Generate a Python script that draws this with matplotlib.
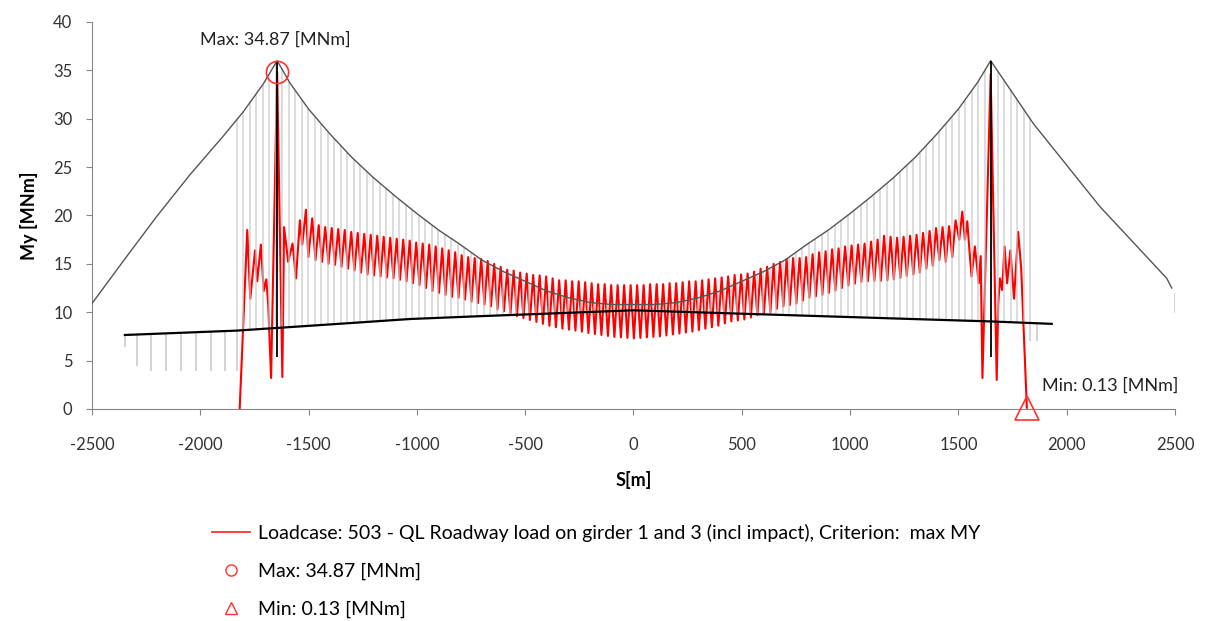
import numpy as np
import matplotlib.pyplot as plt
from matplotlib.lines import Line2D

plt.rcParams['font.family'] = ['Lato', 'DejaVu Sans']
plt.rcParams['axes.unicode_minus'] = False

# --- bridge geometry drawn as background ---
cable_s = [-2500, -2355, -2201, -2048, -1894, -1802, -1709, -1645,
           -1586, -1500, -1400, -1300, -1200, -1100, -1000, -900, -800, -700,
           -600, -500, -400, -300, -200, -100, 0,
           100, 200, 300, 400, 500, 600, 700, 800, 900, 1000, 1100, 1200,
           1300, 1400, 1500, 1590, 1649,
           1846, 2000, 2154, 2354, 2462, 2485]
cable_my = [10.9, 15.3, 19.9, 24.2, 28.2, 30.7, 33.6, 36.0,
            33.7, 31.0, 28.4, 26.0, 23.9, 22.0, 20.2, 18.5, 17.0, 15.4,
            14.2, 13.2, 12.2, 11.5, 11.0, 10.8, 10.8,
            10.8, 11.0, 11.5, 12.2, 13.2, 14.2, 15.4, 17.0, 18.5, 20.2, 22.0, 23.9,
            26.0, 28.4, 31.0, 33.8, 36.0,
            29.5, 25.2, 20.9, 16.1, 13.5, 12.5]

deck_s = [-2348, -1832, -1394, -1032, -700, 0, 715, 1430, 1650, 1931]
deck_my = [7.65, 8.1, 8.75, 9.3, 9.6, 10.2, 9.7, 9.2, 9.05, 8.8]

tower_s = [-1645, 1649]
tower_top = [36.0, 36.0]
tower_bottom = [5.4, 5.4]

# hangers between deck and cable
hanger_first = -1832
hanger_last = 1831
hanger_count = 123

# short verticals hanging under the deck
approach_s = [-2348, -2293, -2228, -2159, -2091, -2020, -1952, -1884, -1832, 1831, 1864]
approach_bottom = [6.4, 4.4, 3.9, 3.9, 3.9, 3.9, 3.9, 3.9, 3.9, 7.0, 7.0]

abutment_s = [2500]
abutment_top = [12.0]
abutment_bottom = [9.9]

# --- My result line (loadcase 503) ---
left_end_s = [-1818, -1783, -1769, -1747, -1737, -1720, -1707, -1695, -1686, -1673,
              -1645, -1621, -1613, -1594, -1574, -1558, -1540, -1529, -1512, -1501]
left_end_my = [0.0, 18.5, 11.4, 16.4, 13.2, 17.0, 12.2, 13.4, 10.7, 3.2,
               34.87, 3.3, 18.8, 15.2, 17.1, 13.5, 19.5, 17.0, 20.6, 15.7]

main_first_peak = -1483
main_pitch = 30
main_peaks = [19.7, 19.0, 18.8, 18.7, 18.6, 18.5, 18.3, 18.2, 18.1, 18.0,
              17.9, 17.8, 17.7, 17.6, 17.5, 17.4, 17.2, 17.1, 17.0, 16.8,
              16.6, 16.4, 16.2, 15.9, 15.7, 15.6, 15.5, 15.3, 15.0, 14.7,
              14.4, 14.3, 14.1, 14.0, 13.85, 13.8, 13.7, 13.5, 13.3, 13.3,
              13.2, 13.2, 13.1, 13.0, 12.9, 12.9, 12.8, 12.8, 12.8, 12.8,
              12.8, 12.8, 12.9, 12.9, 12.9, 13.0, 13.0, 13.1, 13.2, 13.2,
              13.3, 13.4, 13.5, 13.6, 13.7, 13.85, 13.9, 14.0, 14.2, 14.5,
              14.7, 15.0, 15.2, 15.5, 15.6, 15.6, 15.7, 16.0, 16.2, 16.3,
              16.5, 16.6, 16.8, 16.9, 17.0, 17.1, 17.3, 17.5, 17.9, 17.8,
              17.7, 17.8, 17.9, 18.0, 18.2, 18.4, 18.7, 18.8, 18.9, 19.5]
main_troughs = [15.4, 15.2, 15.0, 14.9, 14.7, 14.5, 14.3, 14.1, 13.9, 13.8,
                13.7, 13.6, 13.5, 13.35, 13.2, 13.0, 12.8, 12.5, 12.2, 12.0,
                11.8, 11.6, 11.5, 11.3, 11.1, 10.95, 10.8, 10.6, 10.3, 10.1,
                9.8, 9.6, 9.4, 9.2, 9.0, 8.8, 8.6, 8.45, 8.3, 8.2,
                8.1, 8.0, 7.85, 7.75, 7.65, 7.55, 7.45, 7.4, 7.35, 7.3,
                7.35, 7.4, 7.45, 7.5, 7.6, 7.7, 7.8, 7.9, 8.0, 8.15,
                8.3, 8.45, 8.6, 8.85, 9.05, 9.15, 9.25, 9.45, 9.7, 9.8,
                10.0, 10.35, 10.6, 10.75, 10.9, 11.2, 11.5, 11.65, 11.8, 12.0,
                12.25, 12.5, 12.75, 12.95, 13.15, 13.2, 13.25, 13.25, 13.3, 13.4,
                13.55, 13.75, 13.9, 14.1, 14.5, 14.8, 15.4, 15.2, 15.7]

right_end_s = [1504, 1518, 1530, 1541, 1552, 1561, 1576, 1594, 1603, 1611,
               1649, 1677, 1684, 1692, 1702, 1713, 1725, 1740, 1757, 1776, 1790, 1816]
right_end_my = [17.5, 20.4, 17.5, 19.4, 16.1, 13.7, 16.8, 13.0, 15.8, 3.2,
                34.6, 3.0, 10.9, 13.5, 12.3, 16.8, 13.0, 16.4, 11.4, 18.3, 14.5, 0.13]

max_s, max_val = -1645, 34.87
min_s, min_val = 1816, 0.13

legend_labels = ['Loadcase: 503 - QL Roadway load on girder 1 and 3 (incl impact), Criterion:  max MY',
                 'Max: 34.87 [MNm]',
                 'Min: 0.13 [MNm]']

# assemble red series: peaks at hanger pitch, troughs halfway between
n = len(main_peaks)
peak_s = main_first_peak + main_pitch * np.arange(n)
main_s = np.empty(2 * n - 1)
main_my = np.empty(2 * n - 1)
main_s[0::2] = peak_s
main_s[1::2] = peak_s[:-1] + main_pitch / 2
main_my[0::2] = main_peaks
main_my[1::2] = main_troughs
red_s = np.concatenate([left_end_s, main_s, right_end_s])
red_my = np.concatenate([left_end_my, main_my, right_end_my])

fig = plt.figure(figsize=(12.05, 6.21), dpi=100)
ax = fig.add_axes([0.0763, 0.3414, 0.8988, 0.6232])

grey = '#868686'

# red moment line first, structure drawn over it
ax.plot(red_s, red_my, color='#ff0000', lw=1.5, zorder=2)

hs = np.linspace(hanger_first, hanger_last, hanger_count)
ax.vlines(hs, np.interp(hs, deck_s, deck_my), np.interp(hs, cable_s, cable_my),
          color='#c8c8c8', lw=1.1, alpha=0.8, zorder=3)
ax.vlines(approach_s, approach_bottom, np.interp(approach_s, deck_s, deck_my),
          color='#c8c8c8', lw=1.1, zorder=3)
ax.vlines(abutment_s, abutment_bottom, abutment_top, color='#c8c8c8', lw=1.1, zorder=3)

ax.plot(cable_s, cable_my, color='#555555', lw=1.0, zorder=4)
ax.plot(deck_s, deck_my, color='black', lw=1.6, zorder=4)
ax.vlines(tower_s, tower_bottom, tower_top, color='black', lw=1.3, zorder=4)

# max / min markers
ax.plot([max_s], [max_val], ls='none', marker='o', ms=16, mfc='none', mec='#ff3030',
        mew=1.2, zorder=5, clip_on=False)
ax.plot([min_s], [min_val], ls='none', marker='^', ms=17, mfc='none', mec='#ff3030',
        mew=1.2, zorder=5, clip_on=False)
ax.text(-1655, 38.2, 'Max: 34.87 [MNm]', ha='center', va='center', fontsize=13, color='#222222')
ax.text(1886, 2.4, 'Min: 0.13 [MNm]', ha='left', va='center', fontsize=13, color='#222222')

ax.set_xlim(-2500, 2500)
ax.set_ylim(0, 40)
ax.set_xticks(np.arange(-2500, 2501, 500))
ax.set_yticks(np.arange(0, 41, 5))
for side in ['top', 'right']:
    ax.spines[side].set_visible(False)
for side in ['left', 'bottom']:
    ax.spines[side].set_color(grey)
ax.tick_params(axis='both', direction='out', length=4, color=grey, labelcolor='#333333', labelsize=12)
ax.tick_params(axis='x', pad=16)
ax.tick_params(axis='y', pad=10)

ax.set_xlabel('S[m]', fontsize=13, fontweight='bold')
ax.set_ylabel('My [MNm]', fontsize=13, fontweight='bold')
ax.xaxis.set_label_coords(0.5, -0.16)
ax.yaxis.set_label_coords(-0.050, 0.5)

handles = [Line2D([], [], color='#ff3030', lw=1.3),
           Line2D([], [], ls='none', marker='o', ms=8, mfc='none', mec='#ff3030'),
           Line2D([], [], ls='none', marker='^', ms=8, mfc='none', mec='#ff3030')]
fig.legend(handles, legend_labels, loc='upper left', bbox_to_anchor=(0.176, 0.156),
           frameon=False, fontsize=14, handlelength=1.95, handletextpad=0.4,
           labelspacing=1.05, borderpad=0, borderaxespad=0)

fig.savefig('out.png', dpi=100)
